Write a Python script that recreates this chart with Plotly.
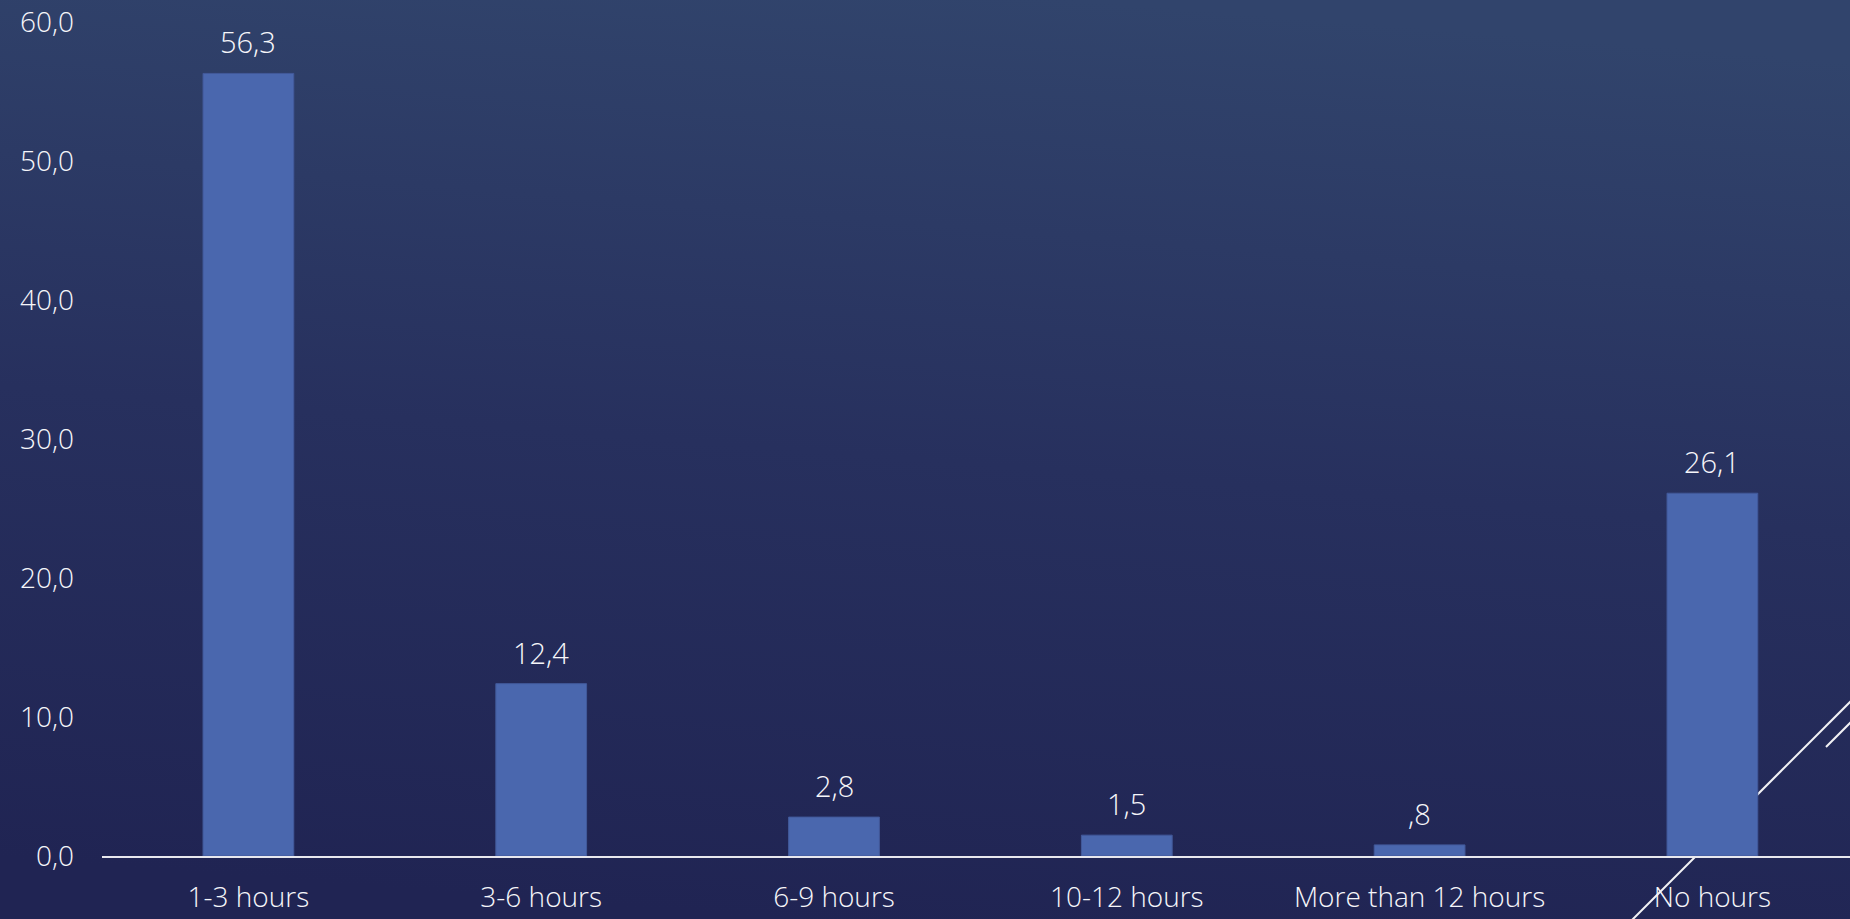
import base64
import plotly.graph_objects as go

categories = ["1-3 hours", "3-6 hours", "6-9 hours", "10-12 hours", "More than 12 hours", "No hours"]
values = [56.3, 12.4, 2.8, 1.5, 0.8, 26.1]
y_ticks = [0, 10, 20, 30, 40, 50, 60]


def fmt(v):
    s = f"{v:.1f}".replace(".", ",")
    if s.startswith("0,") and v != 0:
        s = s[1:]
    return s


W, H = 1850, 919
L, R, T, B = 102, 0, 22, 63
pw, ph = W - L - R, H - T - B

svg = (
    "<svg xmlns='http://www.w3.org/2000/svg' width='1850' height='919' preserveAspectRatio='none'>"
    "<defs><linearGradient id='g' x1='0.42' y1='1' x2='0.58' y2='0'>"
    "<stop offset='0' stop-color='#202453'/>"
    "<stop offset='0.5' stop-color='#27305e'/>"
    "<stop offset='1' stop-color='#31446c'/>"
    "</linearGradient></defs>"
    "<rect width='1850' height='919' fill='url(#g)'/></svg>"
)
bg_uri = "data:image/svg+xml;base64," + base64.b64encode(svg.encode()).decode()

FONT = "Open Sans"
TXT = "#f6f6fa"

fig = go.Figure()
fig.add_trace(go.Bar(
    x=list(range(len(categories))),
    y=values,
    width=0.31,
    marker=dict(color="#4a67ae", line=dict(color="#42599a", width=1)),
    hoverinfo="skip",
))

for i, v in enumerate(values):
    fig.add_annotation(
        x=i, y=v, text=fmt(v), showarrow=False, yanchor="bottom", yshift=10,
        font=dict(family=FONT, size=29, color=TXT, weight=300),
    )


def px_to_paper(px, py):
    return (px - L) / pw, (H - B - py) / ph


# decorative diagonal lines
x0, y0 = px_to_paper(1600, 952)
x1, y1 = px_to_paper(1900, 652)
x2, y2 = px_to_paper(1826, 747)
x3, y3 = px_to_paper(1880, 693)

fig.update_layout(
    width=W, height=H,
    margin=dict(l=L, r=R, t=T, b=B, pad=0),
    paper_bgcolor="#262f5d",
    plot_bgcolor="rgba(0,0,0,0)",
    showlegend=False,
    images=[dict(source=bg_uri, xref="paper", yref="paper",
                 x=-L / pw, y=(H - B) / ph, sizex=W / pw, sizey=H / ph,
                 xanchor="left", yanchor="top", sizing="stretch", layer="below")],
    shapes=[
        dict(type="line", xref="paper", yref="paper", x0=x0, y0=y0, x1=x1, y1=y1,
             line=dict(color="#f2f2f5", width=2), layer="below"),
        dict(type="line", xref="paper", yref="paper", x0=x2, y0=y2, x1=x3, y1=y3,
             line=dict(color="#f2f2f5", width=2), layer="below"),
    ],
    separators=", ",
    xaxis=dict(
        range=[-0.5, -0.5 + pw / 292.8],
        tickmode="array", tickvals=list(range(len(categories))), ticktext=categories,
        showgrid=False, zeroline=False, showline=True, linecolor="#e8e8ee", linewidth=2,
        ticks="", ticklabelstandoff=15, ticklabeloverflow="allow",
        tickfont=dict(family=FONT, size=28, color=TXT, weight=300),
    ),
    yaxis=dict(
        range=[0, 60], tickmode="array", tickvals=y_ticks, tickformat=".1f",
        showgrid=False, zeroline=False, showline=False, ticks="", ticklabelstandoff=27,
        ticklabeloverflow="allow",
        tickfont=dict(family=FONT, size=28, color=TXT, weight=300),
    ),
)

fig.write_html(
    "out.html",
    config={"displayModeBar": False},
    post_script="document.body.style.margin='0';document.body.style.overflow='hidden';",
)
